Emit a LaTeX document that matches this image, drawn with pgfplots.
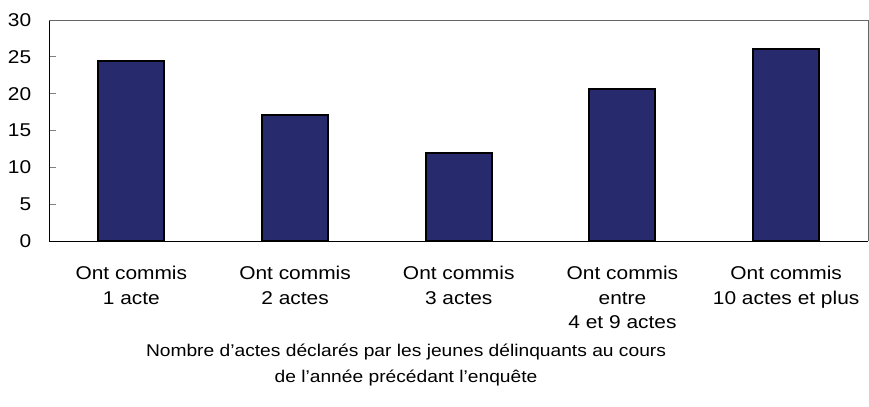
\documentclass[border=0pt]{standalone}
\usepackage{pgfplots}
\pgfplotsset{compat=1.18}
\usepackage{fontspec}
\setmainfont[FakeStretch=1.13]{Liberation Sans}
\definecolor{barblue}{RGB}{40,42,110}
\begin{document}
\fontsize{18.5bp}{22bp}\selectfont
\begin{tikzpicture}
\begin{axis}[
  scale only axis,
  width=818.5bp, height=221bp,
  xmin=-0.5, xmax=4.5, ymin=0, ymax=30,
  clip=false,
  ytick={0,5,10,15,20,25,30},
  xtick={0,1,2,3,4},
  xticklabels={{Ont commis\\1 acte},{Ont commis\\2 actes},{Ont commis\\3 actes},{Ont commis\\entre\\4 et 9 actes},{Ont commis\\10 actes et plus}},
  xticklabel style={align=center, anchor=north, yshift=-19bp, font=\fontsize{18.5bp}{24.5bp}\selectfont},
  yticklabel style={anchor=east, xshift=-12bp, font=\fontsize{18.5bp}{22bp}\selectfont},
  x tick style={draw=none},
  y tick style={draw=gray, line width=0.8bp},
  major tick length=7bp,
  tick align=inside,
  axis x line*=bottom, axis y line*=left,
  axis line style={-, black, line width=0.9bp},
  /pgf/number format/assume math mode=true,
  xlabel={Nombre d’actes déclarés par les jeunes délinquants au cours\\de l’année précédant l’enquête},
  xlabel style={at={(axis description cs:0.4356,0)}, anchor=north, yshift=-97bp, align=center, font=\fontsize{17bp}{26bp}\selectfont},
]
\addplot[ybar, bar width=66bp, fill=barblue, draw=black, line width=2bp] coordinates {(0,24.5) (1,17.1) (2,11.9) (3,20.7) (4,26.0)};
\draw[gray!80!black, line width=0.8bp] (rel axis cs:0,1) -- (rel axis cs:1,1) -- (rel axis cs:1,0);
\coordinate (O) at (rel axis cs:0,0);
\end{axis}
\path ([shift={(-49.5bp,-166bp)}]O) rectangle ([shift={(819.5bp,241bp)}]O);
\end{tikzpicture}
\end{document}
